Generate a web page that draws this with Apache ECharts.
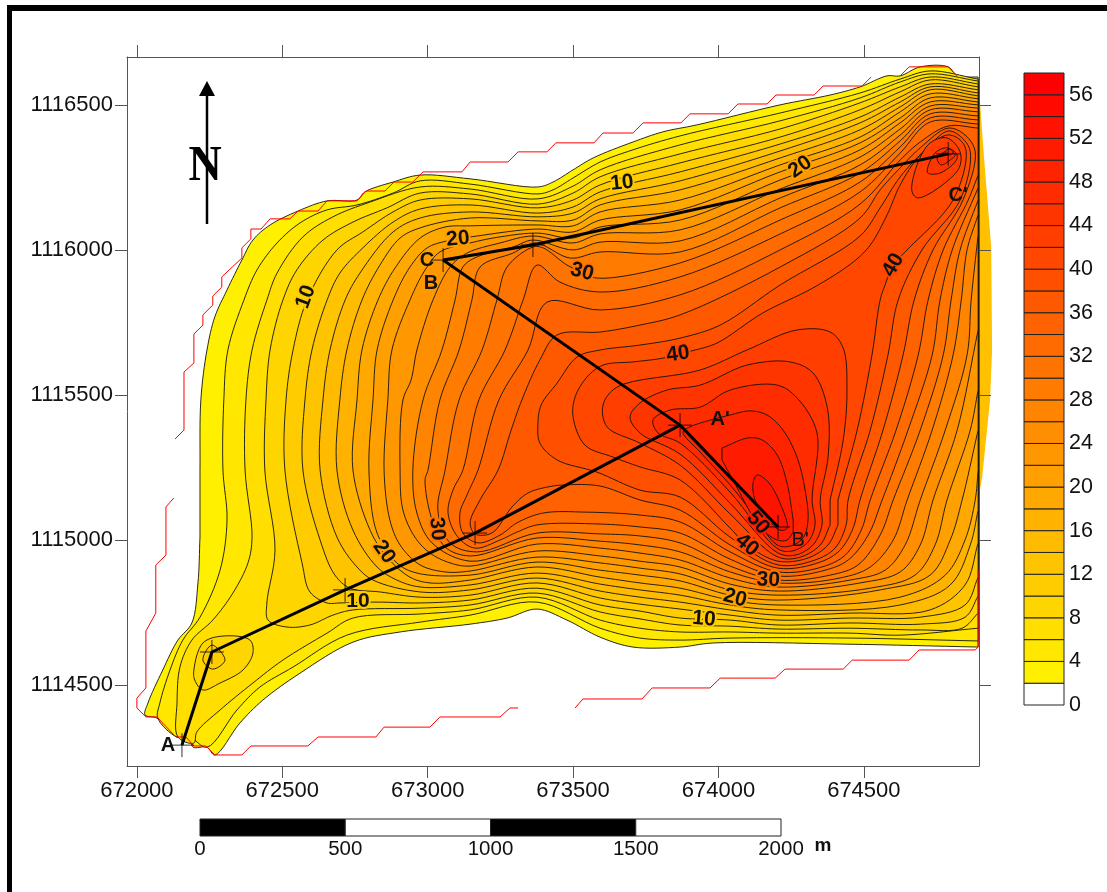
<!DOCTYPE html>
<html><head><meta charset="utf-8"><style>html,body{margin:0;padding:0;background:#fff}#c{width:1107px;height:892px}</style>
<script src="https://cdn.jsdelivr.net/npm/echarts@6/dist/echarts.min.js"></script></head><body><div id="c"></div>
<script>
// Map origin of the offsets below (metres)
const EAST0 = 672000, NORTH0 = 1114000;
const X_TICKS = [672000,672500,673000,673500,674000,674500];
const Y_TICKS = [1114500,1115000,1115500,1116000,1116500];
const LEGEND_TICKS = [0,4,8,12,16,20,24,28,32,36,40,44,48,52,56];
const LEGEND_BANDS = [0,2,4,6,8,10,12,14,16,18,20,22,24,26,28,30,32,34,36,38,40,42,44,46,48,50,52,54,56];
const BAND_COLORS = ['#FFFFFF','#FFF000','#FFE700','#FFDE00','#FFD500','#FFCC00','#FFC400','#FFBB00','#FFB200','#FFA900','#FFA000','#FF9700','#FF8E00','#FF8500','#FF7C00','#FF7400','#FF6B00','#FF6200','#FF5900','#FF5000','#FF4700','#FF3E00','#FF3500','#FF2C00','#FF2400','#FF1B00','#FF1200','#FF0900','#FF0000'];
const SCALE_TICKS = [0,500,1000,1500,2000];

const c2=[217,1241,220,1483,241,1655,268,1769,310,1862,361,1965,399,2034,458,2086,554,2134,654,2169,757,2172,784,2200,881,2234,974,2258,1146,2245,1379,2217,1431,2234,1500,2276,1569,2317,1706,2372,1809,2407,1926,2431,2212,2500,2384,2534,2487,2562,2580,2600,2625,2600,2694,2631,2790,2631,2821,2600,2893,2596,2893,631,2442,641,1981,645,1868,631,1706,631,1593,665,1479,724,1376,762,1273,731,1146,710,905,683,743,648,561,541,433,448,354,369,268,259,241,286,193,286,182,321,138,321,69,386,28,397,38,438,89,552,141,655,189,714,210,852,217,1010];
const c4=[296,1241,299,1483,313,1655,368,1827,413,1931,482,2024,561,2093,654,2138,757,2155,881,2196,974,2238,1146,2227,1379,2193,1431,2207,1500,2248,1593,2303,1706,2345,1868,2393,2212,2472,2487,2541,2625,2589,2728,2617,2893,2589,2893,652,2453,662,2040,662,1868,655,1730,662,1593,696,1376,786,1146,741,974,717,722,672,537,562,423,493,344,414,241,286,182,321,138,321,72,386,79,438,114,552,158,655,217,734,286,896,310,1069];
const c6=[372,1241,375,1483,396,1655,447,1827,482,1920,571,2045,674,2114,802,2165,974,2217,1146,2210,1379,2176,1500,2220,1593,2276,1868,2362,2212,2445,2487,2524,2625,2579,2728,2607,2893,2582,2893,696,2625,672,2453,679,2205,679,2040,683,1868,683,1730,696,1593,724,1376,803,1146,759,974,745,743,731,654,679,502,586,399,507,286,414,206,338,196,300,141,321,138,438,148,562,189,655,261,724,330,817,382,921,396,1010];
const c8=[440,1241,444,1483,458,1655,502,1827,550,1931,640,2034,743,2096,860,2145,974,2196,1146,2193,1379,2158,1500,2196,1593,2252,1868,2331,2212,2417,2487,2507,2625,2562,2728,2596,2893,2572,2893,748,2838,696,2694,690,2453,696,2205,693,2040,703,1868,707,1730,728,1593,752,1376,817,1146,776,974,765,743,759,674,741,595,707,516,700,451,724,447,783,475,965];
const sw8=[196,552,227,645,296,669,389,655,399,610,365,552,286,507,227,483,199,517];
const sw10=[227,586,258,638,303,586,261,555];
const c10=[509,1241,513,1483,537,1655,585,1827,688,2000,777,2062,881,2131,974,2172,1146,2176,1379,2145,1500,2172,1593,2224,1868,2300,2212,2389,2487,2483,2625,2545,2728,2586,2893,2562,2893,807,2848,734,2694,710,2453,714,2205,707,2040,724,1868,731,1730,755,1593,776,1376,834,1146,793,974,783,826,786,698,783,654,783,595,821,568,921];
const c12=[571,1241,578,1483,602,1655,654,1827,698,1920,777,2007,881,2096,974,2141,1146,2155,1379,2127,1500,2148,1593,2200,1868,2269,2212,2365,2487,2458,2625,2527,2728,2572,2893,2552,2893,872,2848,776,2694,734,2453,731,2205,724,2040,741,1868,762,1730,779,1593,800,1376,852,1146,810,974,803,836,821,733,834,681,879,630,1000];
const c14=[630,1241,640,1483,664,1655,716,1827,767,1920,881,2062,974,2110,1146,2131,1379,2114,1500,2127,1593,2176,1868,2238,2212,2341,2487,2438,2625,2510,2728,2562,2893,2541,2893,990,2848,845,2728,759,2453,748,2205,741,2040,759,1868,786,1730,803,1593,824,1376,869,1146,828,974,821,812,862,757,907,688,1010];
const c16=[688,1241,698,1483,722,1655,774,1827,836,1948,905,2041,974,2076,1146,2110,1379,2100,1500,2103,1593,2155,1868,2207,2212,2317,2487,2414,2625,2493,2728,2552,2893,2531,2893,1103,2866,983,2797,845,2625,776,2205,759,2040,776,1868,810,1730,828,1593,848,1376,886,1146,845,974,838,894,862,826,907,743,1034];
const c18=[743,1241,757,1483,774,1655,829,1827,888,1938,974,2041,1060,2079,1146,2083,1379,2086,1500,2083,1593,2131,1868,2172,2212,2293,2487,2389,2625,2476,2728,2538,2893,2521,2893,1241,2883,1138,2848,1000,2780,879,2625,803,2205,776,2040,793,1868,834,1730,852,1593,872,1376,907,1146,862,1008,852,939,872,860,941,802,1034];
const c20=[798,1241,812,1483,826,1655,881,1827,939,1941,998,2007,1066,2031,1170,2048,1379,2072,1500,2062,1593,2103,1868,2138,2212,2269,2487,2369,2625,2455,2728,2524,2893,2510,2893,1379,2838,1138,2797,1000,2728,879,2556,828,2205,793,2040,810,1868,859,1730,879,1593,896,1376,924,1146,879,963,886,894,921,826,1024];
const c22=[850,1241,863,1483,877,1655,939,1827,991,1931,1042,1993,1146,2024,1249,2045,1379,2058,1500,2041,1593,2079,1868,2103,2212,2241,2487,2345,2625,2438,2728,2510,2893,2500,2893,1517,2866,1379,2786,1138,2745,983,2676,879,2522,834,2205,810,2040,828,1868,883,1730,903,1593,921,1376,941,1146,893,1060,890,974,914,905,983,870,1069];
const c24=[905,1241,915,1483,943,1552,963,1655,1018,1827,1077,1941,1135,1989,1249,2024,1362,2048,1500,2024,1593,2055,1868,2069,2212,2210,2487,2320,2625,2417,2728,2496,2893,2489,2893,1724,2821,1379,2738,1138,2694,983,2625,890,2487,852,2205,824,2040,848,1868,907,1730,927,1593,945,1376,962,1146,910,1077,921,1008,955,956,1010,915,1103];
const c26=[949,1241,984,1483,1049,1655,1094,1827,1121,1941,1170,1976,1293,2010,1362,2034,1500,2000,1593,2027,1868,2031,2212,2179,2487,2293,2625,2396,2728,2483,2893,2476,2893,2052,2869,1827,2855,1638,2780,1379,2694,1138,2642,983,2573,896,2453,862,2205,838,2040,869,1868,931,1730,955,1593,972,1376,986,1146,927,1015,990,963,1093];
const c28=[1001,1241,1042,1483,1108,1655,1152,1827,1180,1941,1293,1989,1369,2024,1490,1972,1593,1993,1868,1993,2212,2145,2487,2265,2625,2376,2728,2469,2893,2462,2893,2121,2855,2000,2835,1827,2807,1638,2735,1379,2649,1138,2601,1000,2522,907,2418,869,2205,852,2040,890,1868,959,1730,983,1593,996,1376,1007,1146,945,1060,976,1015,1069,991,1207];
const c30=[1060,1241,1108,1483,1187,1655,1238,1827,1273,1941,1362,2010,1397,2007,1479,1948,1531,1924,1582,1903,1868,1955,2212,2103,2487,2234,2625,2355,2728,2455,2893,2448,2893,2172,2831,2000,2800,1827,2773,1638,2694,1379,2601,1138,2556,1017,2480,914,2384,879,2205,862,2040,910,1868,990,1730,1014,1593,1021,1376,1024,1170,959,1077,990,1035,1103];
const c32=[1121,1241,1176,1483,1266,1655,1328,1827,1376,1948,1455,1889,1593,1855,1868,1907,2212,2055,2487,2200,2625,2334,2728,2441,2893,2434,2893,2214,2804,2000,2762,1827,2735,1638,2652,1379,2563,1138,2515,1017,2446,931,2367,896,2205,876,2040,934,1868,1024,1730,1045,1593,1055,1376,1052,1307,1027,1249,1000,1163,972,1104,1010,1070,1093,1087,1172];
const c34=[1173,1241,1245,1483,1345,1655,1410,1820,1593,1793,1868,1845,2212,2000,2487,2158,2625,2310,2694,2372,2790,2427,2893,2420,2893,2258,2859,2172,2773,2000,2721,1827,2687,1638,2611,1379,2522,1138,2491,1034,2436,948,2356,907,2205,890,2040,959,1868,1062,1730,1086,1548,1096,1397,1093,1307,1059,1249,1017,1173,990,1121,1024,1111,1093,1135,1155];
const c36=[1242,1241,1287,1379,1324,1483,1386,1621,1445,1707,1593,1717,1730,1741,1868,1776,2212,1941,2487,2110,2556,2207,2625,2283,2694,2352,2790,2420,2848,2396,2883,2338,2841,2172,2738,2000,2673,1827,2635,1638,2566,1379,2487,1138,2463,1041,2418,965,2350,924,2205,903,2040,983,1868,1103,1730,1138,1593,1186,1472,1190,1414,1183,1345,1162,1290,1114,1221,1024,1163,1021,1146,1059,1180,1138];
const c38=[1379,1396,1390,1465,1445,1541,1514,1631,1593,1655,1730,1672,1868,1696,2006,1741,2212,1879,2487,2048,2556,2145,2625,2252,2711,2345,2790,2410,2838,2386,2866,2338,2831,2172,2700,2000,2618,1827,2583,1638,2522,1379,2446,1138,2439,1052,2401,972,2332,931,2205,914,2040,1010,1868,1148,1730,1172,1582,1234,1445,1276,1386,1334];
const c40=[1500,1424,1507,1493,1548,1562,1603,1603,1706,1614,1809,1627,1861,1641,1920,1655,1995,1679,2153,1783,2325,1869,2463,1958,2522,2017,2580,2121,2625,2224,2694,2327,2786,2396,2831,2379,2852,2338,2807,2172,2649,2000,2601,1948,2573,1879,2556,1827,2528,1638,2477,1379,2411,1138,2411,1052,2377,983,2308,938,2205,927,2098,983,2040,1041,1868,1207,1730,1252,1637,1286,1541,1327];
const c42=[1603,1465,1651,1527,1937,1586,2098,1655,2270,1724,2384,1717,2429,1662,2442,1517,2429,1345,2384,1138,2384,1052,2350,983,2281,941,2205,941,2040,1090,1868,1258,1730,1334,1617,1390];
const c44=[1696,1424,1730,1472,1823,1517,1937,1534,2098,1603,2246,1614,2325,1576,2374,1458,2377,1286,2350,1138,2356,1052,2325,983,2264,948,2205,955,2040,1127,1868,1296,1730,1369];
const c46=[1775,1414,1834,1448,1937,1458,2040,1517,2202,1534,2270,1490,2339,1369,2322,1138,2332,1052,2308,993,2253,962,2205,969,2040,1165,1868,1334,1792,1369];
const c48=[1878,1372,1902,1390,2040,1431,2109,1445,2167,1431,2222,1379,2270,1286,2298,1172,2308,1069,2291,1007,2246,979,2202,983,2109,1103,2040,1190,1937,1303];
const c50=[2012,1317,2102,1352,2150,1345,2202,1293,2236,1196,2257,1069,2257,1027,2236,1000,2202,1000,2143,1045,2050,1207,2012,1276];
const c52=[2133,1224,2119,1196,2126,1138,2171,1069,2212,1034,2236,1041,2212,1127,2171,1200];
const n42=[2666,2200,2687,2179,2824,2276,2831,2338,2786,2386,2728,2369,2683,2293];
const n44=[2718,2269,2728,2262,2762,2265,2814,2303,2821,2327,2786,2352,2745,2334];
const n46=[2752,2317,2766,2293,2797,2310,2814,2327,2790,2341];
const n48=[2780,2338,2797,2327,2807,2338,2793,2348];
const eastFringe=[2893,2596,2914,2310,2938,2010,2941,1655,2934,1483,2907,1217,2893,1138];

// Red survey boundary pieces
const redNW=[131,1348,162,1379,162,1579,196,1610,196,1710,227,1741,227,1776,261,1810,261,1841,292,1872,292,1907,361,1972,361,2007,392,2038,392,2072,427,2072,458,2107,526,2107,554,2134,623,2134,654,2169,757,2169,788,2203,853,2203,884,2234,949,2234,984,2269,1118,2269,1146,2303,1276,2303,1311,2338,1410,2338,1441,2369,1572,2369,1603,2403,1706,2403,1741,2438,1871,2438,1902,2469,2033,2469,2067,2503,2167,2503,2198,2534,2329,2534,2360,2565,2494,2565,2525,2596];
const redTop=[2625,2600,2656,2631,2790,2631,2821,2600];
const redSW=[127,1145,100,1114,100,948,65,914,65,748,31,686,31,490,0,455,0,421,31,390,69,390,134,321,169,321,196,290,237,290,268,259,361,259,392,290,588,290,623,321,822,321,850,355,1008,355,1042,390,1249,390,1283,421,1311,421];
const redSE=[1507,421,1534,452,1737,452,1772,490,1971,490,2006,524,2195,524,2229,555,2429,555,2460,586,2656,586,2690,621,2883,621,2893,631,2893,896];

// Section lines and survey crosses
const sectionA=[155,293,258,614,716,828,1163,1024,1868,1396];
const sectionB=[1053,1965,1868,1396,2205,1045];
const sectionC=[1053,1965,1362,2017,2790,2331];
const crosses=[155,293,258,614,716,828,1163,1024,1868,1396,2205,1045,1053,1965,1362,2017,2790,2331];

// [text, east, north, rotation deg, band colour behind it]
const contourLabels=[['10',581,1838,70,'#FFCC00'],['20',1104,2038,5,'#FFA000'],['10',1668,2231,6,'#FFCC00'],['20',2281,2286,35,'#FFA000'],['30',1531,1924,-15,'#FF7400'],['40',1861,1641,8,'#FF4700'],['40',2601,1948,60,'#FF4700'],['10',760,790,0,'#FFCC00'],['20',850,959,-55,'#FFA000'],['30',1032,1038,-85,'#FF7400'],['50',2136,1059,-50,'#FF1B00'],['40',2098,983,-40,'#FF4700'],['30',2171,862,-3,'#FF7400'],['20',2057,800,-15,'#FFA000'],['10',1950,728,-5,'#FFCC00']];
const pointLabels=[['A',107,293,true],["A'",2006,1414,true],['B',1011,1886,true],['C',998,1965,true],["B'",2281,1000,false],["C'",2824,2186,true]];

const surfaces=[[2,c2],[4,c4],[6,c6],[8,c8],[8,sw8],[10,sw10],[10,c10],[12,c12],[14,c14],[16,c16],[18,c18],[20,c20],[22,c22],[24,c24],[26,c26],[28,c28],[30,c30],[32,c32],[34,c34],[36,c36],[38,c38],[40,c40],[42,c42],[44,c44],[46,c46],[48,c48],[50,c50],[52,c52],[42,n42],[44,n44],[46,n46],[48,n48]];

const pairs=a=>{const r=[];for(let i=0;i<a.length;i+=2)r.push([EAST0+a[i],NORTH0+a[i+1]]);return r;};
const colorOf=l=>BAND_COLORS[LEGEND_BANDS.indexOf(l)];
const FONT='"Liberation Sans",Arial,sans-serif';
const AX='#555';

// Curve through the projected outline vertices (centripetal Catmull-Rom), used only for drawing.
// Long vertical edges, where an outline runs along the map's east edge, stay straight.
function curve(pts){
  const n=pts.length,out=[],d=(a,b)=>Math.max(1e-3,Math.pow(Math.hypot(a[0]-b[0],a[1]-b[1]),0.5));
  const edge=(a,b)=>Math.abs(a[0]-b[0])<0.5&&Math.abs(a[1]-b[1])>10;
  for(let i=0;i<n;i++){
    const p0=pts[(i-1+n)%n],p1=pts[i],p2=pts[(i+1)%n],p3=pts[(i+2)%n];
    if(edge(p1,p2)){out.push(p1.slice());continue;}
    const t01=d(p0,p1),t12=d(p1,p2),t23=d(p2,p3);
    for(let s=0;s<8;s++){
      const u=s/8,r=[0,0];
      for(const k of [0,1]){
        const chord=(p2[k]-p1[k])/t12;
        const m1=edge(p0,p1)?chord:(p1[k]-p0[k])/t01-(p2[k]-p0[k])/(t01+t12)+chord;
        const m2=edge(p2,p3)?chord:chord-(p3[k]-p1[k])/(t12+t23)+(p3[k]-p2[k])/t23;
        const a=m1*t12,b=m2*t12,h=p1[k],g=p2[k];
        r[k]=(2*u*u*u-3*u*u+1)*h+(u*u*u-2*u*u+u)*a+(-2*u*u*u+3*u*u)*g+(u*u*u-u*u)*b;
      }
      out.push(r);
    }
  }
  return out;
}

const mainX={min:671966,max:674896,type:'value',gridIndex:0,z:10,splitLine:{show:false}};
const mainY={min:1114221,max:1116665,type:'value',gridIndex:0,z:10,splitLine:{show:false}};
const tickX={show:true,length:12,lineStyle:{color:AX,width:1},customValues:X_TICKS};
const tickY={show:true,length:12,lineStyle:{color:AX,width:1},customValues:Y_TICKS};

const chart=echarts.init(document.getElementById('c'),null,{renderer:'canvas'});
const redLine=a=>({type:'line',xAxisIndex:0,yAxisIndex:0,data:pairs(a),symbol:'none',silent:true,z:5,clip:false,lineStyle:{color:'#FF0000',width:1},animation:false});
const thick=a=>({type:'line',xAxisIndex:0,yAxisIndex:0,data:pairs(a),symbol:'none',silent:true,z:7,clip:false,lineStyle:{color:'#000',width:3},animation:false});

chart.setOption({
  animation:false,
  grid:[
    {left:127,top:57,width:852,height:709},
    {left:1024,top:73,width:40,height:632},
    {left:200,top:819,width:581,height:17}
  ],
  xAxis:[
    Object.assign({},mainX,{position:'bottom',axisLine:{show:true,lineStyle:{color:AX}},axisTick:tickX,
      axisLabel:{show:true,customValues:X_TICKS,formatter:v=>String(v),color:'#111',fontFamily:FONT,fontSize:22,margin:14}}),
    Object.assign({},mainX,{position:'top',axisLine:{show:true,lineStyle:{color:AX}},axisTick:tickX,axisLabel:{show:false}}),
    {type:'value',gridIndex:1,min:0,max:1,show:false},
    {type:'value',gridIndex:2,min:0,max:2000,position:'bottom',axisLine:{show:false},splitLine:{show:false},axisTick:{show:false},
      axisLabel:{show:true,customValues:SCALE_TICKS,formatter:v=>String(v),color:'#111',fontFamily:FONT,fontSize:20.5,margin:3}}
  ],
  yAxis:[
    Object.assign({},mainY,{position:'left',axisLine:{show:true,lineStyle:{color:AX}},axisTick:tickY,
      axisLabel:{show:true,customValues:Y_TICKS,formatter:v=>String(v),color:'#111',fontFamily:FONT,fontSize:22,margin:14}}),
    Object.assign({},mainY,{position:'right',axisLine:{show:true,lineStyle:{color:AX}},axisTick:tickY,axisLabel:{show:false}}),
    {type:'value',gridIndex:1,min:0,max:58,position:'right',axisLine:{show:false},splitLine:{show:false},axisTick:{show:false},
      axisLabel:{show:true,customValues:LEGEND_TICKS,color:'#111',fontFamily:FONT,fontSize:21.5,margin:5,padding:[4,0,0,0]}},
    {type:'value',gridIndex:2,min:0,max:1,show:false}
  ],
  series:[
    {type:'custom',xAxisIndex:0,yAxisIndex:0,z:2,silent:true,data:[0],clip:false,
      renderItem:(p,api)=>({type:'polygon',shape:{points:pairs(eastFringe).map(q=>api.coord(q))},style:{fill:'#FFC000',stroke:null}})},
    {type:'custom',xAxisIndex:0,yAxisIndex:0,z:3,silent:true,clip:true,data:surfaces.map((s,i)=>i),
      renderItem:(p,api)=>{const s=surfaces[p.dataIndex];
        return {type:'polygon',shape:{points:curve(pairs(s[1]).map(q=>api.coord(q)))},
          style:{fill:colorOf(s[0]),stroke:'#111',lineWidth:0.9}};}},
    redLine(redNW),redLine(redTop),redLine(redSW),redLine(redSE),
    {type:'custom',xAxisIndex:0,yAxisIndex:0,z:6,silent:true,clip:false,data:contourLabels.map((s,i)=>i),
      renderItem:(p,api)=>{const l=contourLabels[p.dataIndex],q=api.coord([EAST0+l[1],NORTH0+l[2]]);
        return {type:'text',x:q[0],y:q[1],rotation:l[3]*Math.PI/180,
          style:{text:l[0],font:'bold 21px "Liberation Sans",Arial,sans-serif',fill:'#111',align:'center',verticalAlign:'middle',stroke:l[4],lineWidth:4,strokeFirst:true}};}},
    thick(sectionA),thick(sectionB),thick(sectionC),
    {type:'scatter',xAxisIndex:0,yAxisIndex:0,z:8,silent:true,clip:false,data:pairs(crosses),symbol:'path://M0 12H24M12 0V24',symbolSize:24,
      itemStyle:{color:'none',borderColor:'#000',borderWidth:1}},
    {type:'custom',xAxisIndex:0,yAxisIndex:0,z:9,silent:true,clip:false,data:pointLabels.map((s,i)=>i),
      renderItem:(p,api)=>{const l=pointLabels[p.dataIndex],q=api.coord([EAST0+l[1],NORTH0+l[2]]);
        return {type:'text',x:q[0],y:q[1],style:{text:l[0],font:(l[3]?'bold ':'')+'20px "Liberation Sans",Arial,sans-serif',fill:'#111',align:'center',verticalAlign:'middle'}};}},
    {type:'custom',xAxisIndex:2,yAxisIndex:2,z:3,silent:true,data:LEGEND_BANDS.map(v=>[0,v]),
      renderItem:(p,api)=>{const v=api.value(1),a=api.coord([0,v+2]),b=api.coord([1,v]);
        return {type:'rect',shape:{x:a[0],y:a[1],width:b[0]-a[0],height:b[1]-a[1]},style:{fill:BAND_COLORS[p.dataIndex],stroke:'#222',lineWidth:1}};}},
    {type:'custom',xAxisIndex:3,yAxisIndex:3,z:3,silent:true,data:SCALE_TICKS.slice(0,-1),
      encode:{x:0},
      renderItem:(p,api)=>{const v=SCALE_TICKS[p.dataIndex],w=SCALE_TICKS[p.dataIndex+1],a=api.coord([v,1]),b=api.coord([w,0]);
        return {type:'rect',shape:{x:a[0],y:a[1],width:b[0]-a[0],height:b[1]-a[1]},style:{fill:p.dataIndex%2?'#fff':'#000',stroke:'#222',lineWidth:1}};}}
  ],
  graphic:[
    {type:'rect',shape:{x:7,y:5,width:1100,height:6},style:{fill:'#000'},z:20},
    {type:'rect',shape:{x:7,y:5,width:5,height:887},style:{fill:'#000'},z:20},
    {type:'line',shape:{x1:207,y1:94,x2:207,y2:224},style:{stroke:'#000',lineWidth:2.5},z:20},
    {type:'polygon',shape:{points:[[207,81],[199,96],[215,96]]},style:{fill:'#000'},z:20},
    {type:'text',x:205,y:167,scaleY:1.12,z:21,style:{text:'N',font:'bold 46px "Liberation Serif","Times New Roman",serif',fill:'#000',align:'center',verticalAlign:'middle'}},
    {type:'text',x:823,y:846,z:21,style:{text:'m',font:'bold 19px "Liberation Sans",Arial,sans-serif',fill:'#111',align:'center',verticalAlign:'middle'}}
  ]
});
</script></body></html>
